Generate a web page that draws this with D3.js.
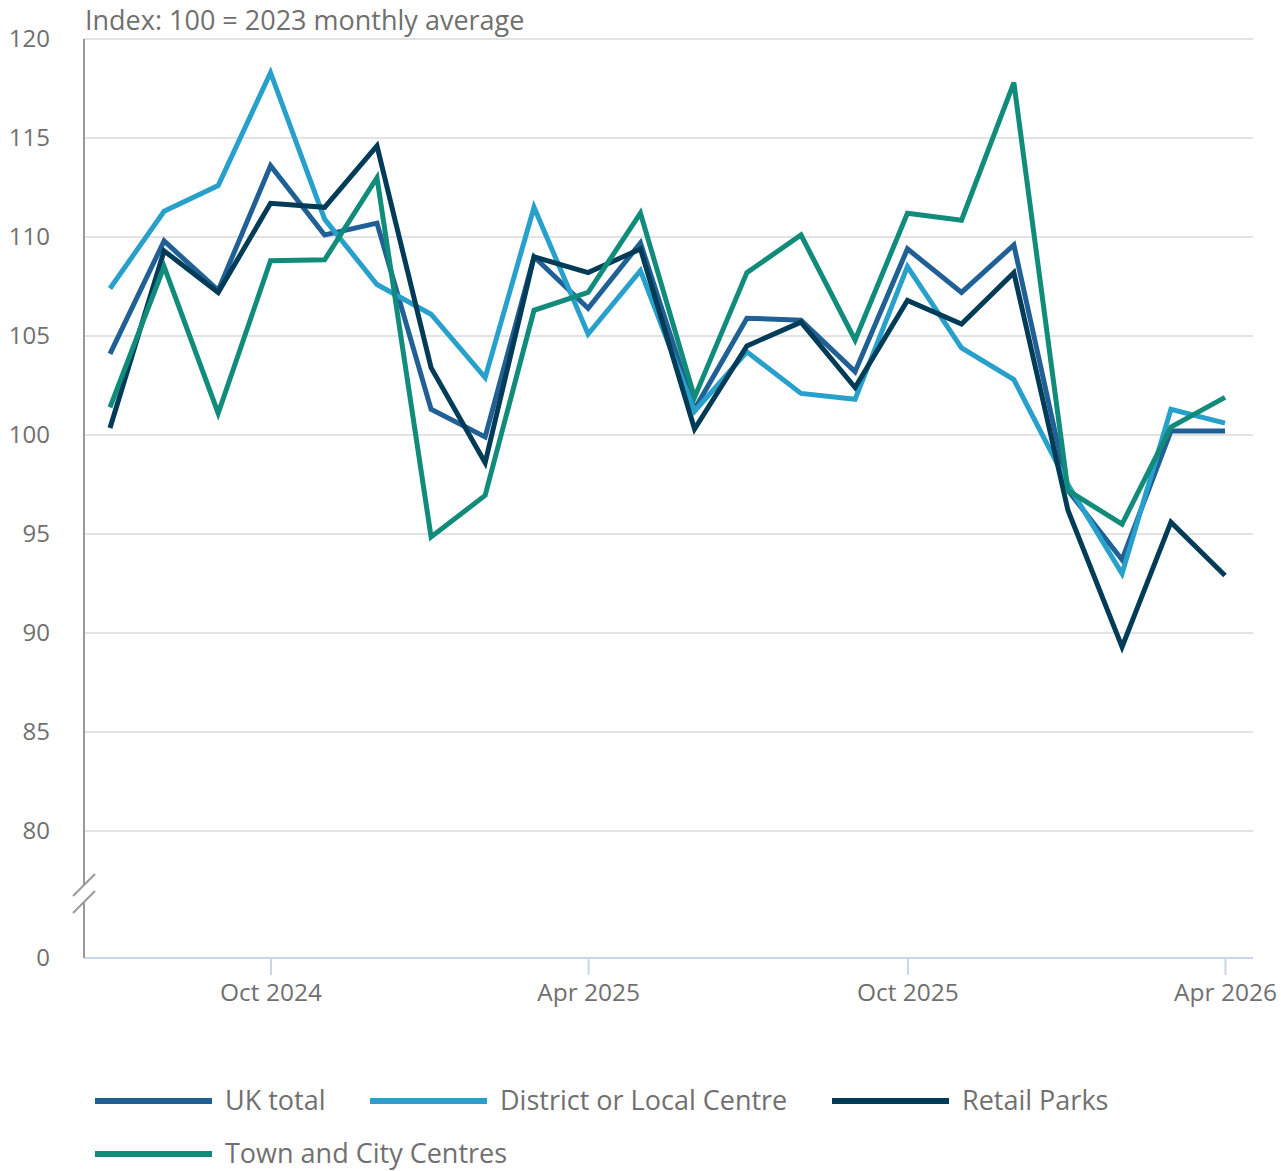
<!DOCTYPE html>
<html><head><meta charset="utf-8">
<script src="https://cdn.jsdelivr.net/npm/d3@7"></script>
<style>
body{margin:0;background:#fff;}
text{font-family:"Open Sans",sans-serif;fill:#707070;}
</style></head><body>
<svg id="c" width="1288" height="1171"></svg>
<script>
const months = ["2024-07","2024-08","2024-09","2024-10","2024-11","2024-12","2025-01","2025-02","2025-03","2025-04","2025-05","2025-06","2025-07","2025-08","2025-09","2025-10","2025-11","2025-12","2026-01","2026-02","2026-03","2026-04"];
const ukTotal   = [104.1,109.8,107.3,113.6,110.1,110.7,101.3,99.9,109.0,106.4,109.7,101.3,105.9,105.8,103.2,109.4,107.2,109.6,97.2,93.7,100.2,100.2];
const district  = [107.4,111.3,112.6,118.3,110.9,107.6,106.1,102.9,111.5,105.1,108.3,101.2,104.2,102.1,101.8,108.5,104.4,102.8,97.5,93.0,101.3,100.6];
const retail    = [100.35,109.3,107.2,111.7,111.5,114.6,103.4,98.6,109.0,108.2,109.4,100.3,104.5,105.7,102.4,106.8,105.6,108.2,96.2,89.3,95.6,92.9];
const town      = [101.4,108.5,101.1,108.8,108.85,113.0,94.85,96.95,106.3,107.2,111.2,101.9,108.2,110.1,104.8,111.2,110.85,117.8,97.2,95.5,100.4,101.9];
const seriesNames = ["UK total","District or Local Centre","Retail Parks","Town and City Centres"];
const seriesColors = ["#206095","#27a0cc","#003c57","#118c7b"];
const yTicks = [0,80,85,90,95,100,105,110,115,120];
const xTickMonths = ["2024-10","2025-04","2025-10","2026-04"];
const xTickLabels = ["Oct 2024","Apr 2025","Oct 2025","Apr 2026"];
const title = "Index: 100 = 2023 monthly average";

const svg = d3.select("#c");
const parse = d3.timeParse("%Y-%m");
const dates = months.map(parse);
const x = d3.scaleTime().domain([dates[0], dates[dates.length-1]]).range([110,1225]);
const y = d3.scaleLinear().domain([0,80,120]).range([958,831,39]);
const left = 84, right = 1253;

// gridlines
svg.append("g").selectAll("line").data(yTicks.filter(v=>v>0)).join("line")
  .attr("x1",left).attr("x2",right).attr("y1",d=>y(d)).attr("y2",d=>y(d))
  .attr("stroke","#e3e3e3").attr("stroke-width",2);

// y labels
svg.append("g").selectAll("text").data(yTicks).join("text")
  .attr("x",50).attr("y",d=>y(d)).attr("dy","0.35em").attr("text-anchor","end")
  .attr("font-size",24).text(d=>d);

// x axis
const xAxis = d3.axisBottom(x).tickValues(xTickMonths.map(parse))
  .tickFormat((d,i)=>xTickLabels[i]).tickSize(17).tickSizeOuter(0);
const gx = svg.append("g").attr("transform",`translate(0,${y(0)})`).call(xAxis);
gx.select(".domain").remove();
gx.selectAll(".tick line").attr("stroke","#c8d5ea").attr("stroke-width",2);
gx.selectAll(".tick text").attr("font-size",24.5).attr("dy","0.95em").attr("fill","#707070").attr("font-family","Open Sans");
svg.append("line").attr("x1",left).attr("x2",right).attr("y1",y(0)).attr("y2",y(0))
  .attr("stroke","#c8d5ea").attr("stroke-width",2);

// y axis line with break
svg.append("line").attr("x1",left).attr("x2",left).attr("y1",y(120)).attr("y2",885).attr("stroke","#999").attr("stroke-width",2);
svg.append("line").attr("x1",left).attr("x2",left).attr("y1",903).attr("y2",y(0)).attr("stroke","#999").attr("stroke-width",2);
svg.append("line").attr("x1",73).attr("y1",896).attr("x2",95).attr("y2",874).attr("stroke","#999").attr("stroke-width",2);
svg.append("line").attr("x1",73).attr("y1",913).attr("x2",95).attr("y2",891).attr("stroke","#999").attr("stroke-width",2);

// title
svg.append("text").attr("x",85).attr("y",30).attr("font-size",27).text(title);

// lines
const allSeries = [ukTotal,district,retail,town];
const line = d3.line().x((d,i)=>x(dates[i])).y(d=>y(d));
allSeries.forEach((s,k)=>{
  svg.append("path").datum(s).attr("d",line).attr("fill","none")
    .attr("stroke",seriesColors[k]).attr("stroke-width",5).attr("stroke-linejoin","miter");
});

// legend
const legendPos = [[95,1101],[370,1101],[832,1101],[95,1154]];
seriesNames.forEach((n,k)=>{
  const [lx,ly] = legendPos[k];
  svg.append("line").attr("x1",lx).attr("x2",lx+117).attr("y1",ly).attr("y2",ly)
    .attr("stroke",seriesColors[k]).attr("stroke-width",6);
  svg.append("text").attr("x",lx+130).attr("y",ly).attr("dy","0.35em").attr("font-size",27).text(n);
});
</script></body></html>
